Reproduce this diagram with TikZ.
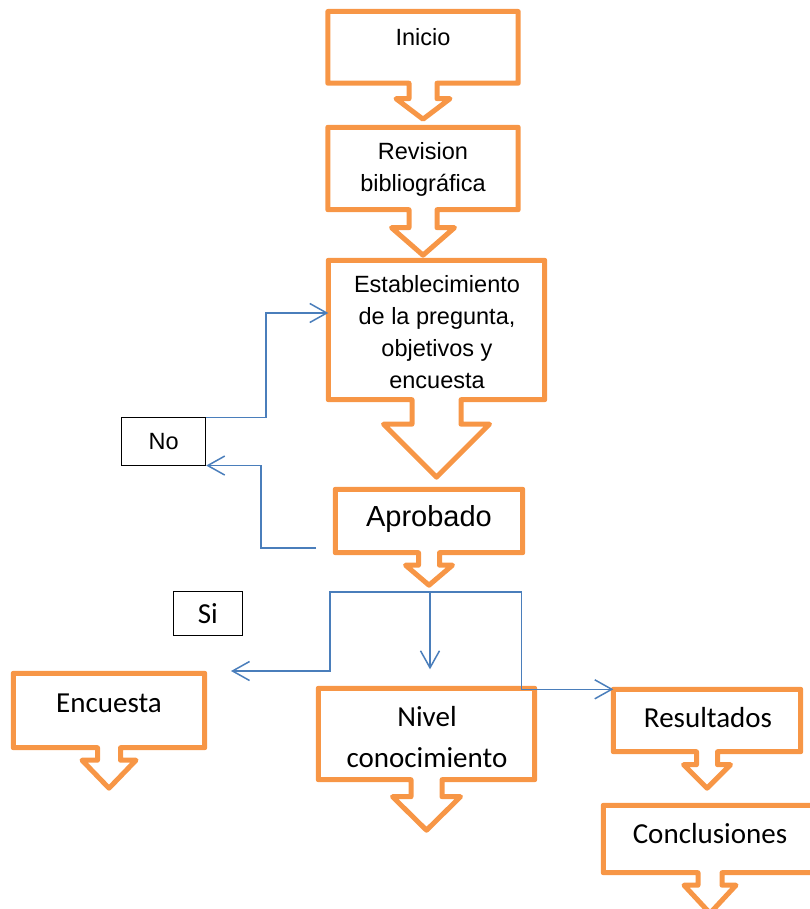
\documentclass[tikz,border=0pt]{standalone}
\usepackage{fontspec}
\setmainfont{Liberation Sans}
\newfontfamily\calibrifont{Carlito}
\usepackage{tikz}
\usetikzlibrary{arrows.meta}
\definecolor{calloutorange}{HTML}{F79646}
\definecolor{linkblue}{HTML}{4A7EBB}
\tikzset{
    callbox/.style={rectangle,inner sep=0pt,draw=none},
    callline/.style={draw=calloutorange,line width=5pt,line join=round},
    arialtext/.style={anchor=base,align=center,inner sep=0pt,font=\fontsize{23.5}{32}\selectfont},
    calibritext/.style={anchor=base,align=center,inner sep=0pt,font=\calibrifont\fontsize{29}{41}\selectfont},
    tagbox/.style={rectangle,draw=black,line width=1pt,inner sep=0pt},
    link/.style={draw=linkblue,line width=1.5pt,-{Straight Barb[length=17pt,width=19pt,line width=1.5pt]}}
}
% box name, stem half width, stem length, head half width, head length
\newcommand{\callout}[5]{%
  \draw[callline] ([xshift=-#2pt]#1.south) -- ++(0,#3) -- ++({-(#4-#2)},0) -- ++(#4,#5) -- ++(#4,-#5)
    -- ++({-(#4-#2)},0) -- ++(0,-#3) -- (#1.south east) -- (#1.north east) -- (#1.north west) -- (#1.south west) -- cycle;}

\begin{document}
\begin{tikzpicture}[x=1pt,y=-1pt]
\useasboundingbox (0,0) rectangle (810,909);

\node[callbox,minimum width=190pt,minimum height=71.3pt] (inicio) at (423,47.35) {};
\node[callbox,minimum width=190pt,minimum height=82pt] (revision) at (423,168.5) {};
\node[callbox,minimum width=216pt,minimum height=139pt] (estab) at (436.5,330) {};
\node[callbox,minimum width=187pt,minimum height=63pt] (aprob) at (429,521) {};
\node[callbox,minimum width=191pt,minimum height=74pt] (encuesta) at (109,710.5) {};
\node[callbox,minimum width=216pt,minimum height=91pt] (nivel) at (426.5,734) {};
\node[callbox,minimum width=187pt,minimum height=62pt] (result) at (707,720.5) {};
\node[callbox,minimum width=213pt,minimum height=67pt] (concl) at (710,839) {};

\callout{inicio}{14}{15.5}{27}{20.5}
\callout{revision}{14}{18}{31.5}{27.5}
\callout{estab}{24.5}{24.5}{53}{53}
\callout{aprob}{10.5}{12.5}{23.5}{20}
\callout{encuesta}{11.5}{12.5}{27}{28}
\callout{nivel}{15.5}{17}{34}{33.5}
\callout{result}{10.5}{13}{23.5}{23.5}
\callout{concl}{12}{12.5}{26}{28}

% base of a multi-line node is its last line
\node[arialtext] at ([yshift=-34.3pt]inicio.north) {Inicio};
\node[arialtext] at ([yshift=-64.5pt]revision.north) {Revision\\bibliográfica};
\node[arialtext] at ([xshift=0.5pt,yshift=-128.2pt]estab.north) {Establecimiento\\de la pregunta,\\objetivos y\\encuesta};
\node[arialtext,font=\fontsize{29}{35}\selectfont] at ([yshift=-37.5pt]aprob.north) {Aprobado};
\node[calibritext] at ([yshift=-39.5pt]encuesta.north) {Encuesta};
\node[calibritext] at ([xshift=0.5pt,yshift=-79.5pt]nivel.north) {Nivel\\conocimiento};
\node[calibritext] at ([xshift=1pt,yshift=-38.5pt]result.north) {Resultados};
\node[calibritext] at ([yshift=-38.5pt]concl.north) {Conclusiones};

\node[tagbox,minimum width=84pt,minimum height=47.3pt,font=\fontsize{23.5}{28}\selectfont] (no) at (163.7,441.4) {No};
\node[tagbox,minimum width=69pt,minimum height=44pt,font=\calibrifont\fontsize{29}{35}\selectfont] (si) at (207.8,613.8) {Si};

\coordinate (backfrom) at (316,548);
\coordinate (split) at (430,592);
\coordinate (siend) at (231,671);

\draw[link] (no.north east) -- ++(60,0) |- ([yshift=17pt]estab.west);
\draw[link] (backfrom) -- ++(-55,0) |- (no.south east);
\draw[link] (split) -| ([xshift=99pt]siend) -- (siend);
\draw[link] (split) -- ([yshift=19pt]split |- nivel.north);
\draw[link] (split) -| ([xshift=-92pt]result.north west) -- (result.north west);

\end{tikzpicture}
\end{document}
